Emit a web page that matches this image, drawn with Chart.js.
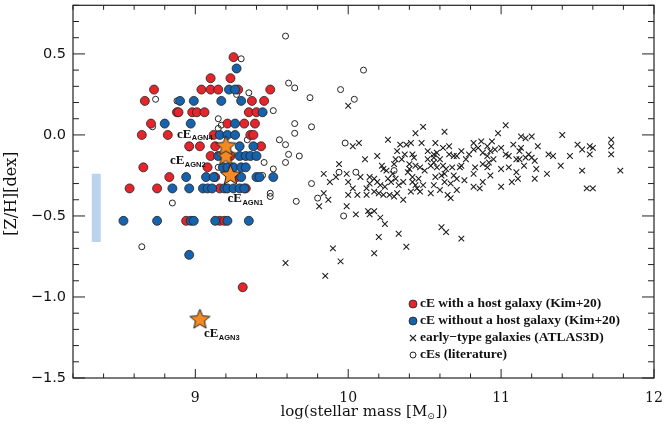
<!DOCTYPE html>
<html>
<head>
<meta charset="utf-8">
<script src="https://cdn.jsdelivr.net/npm/chart.js@4.4.0/dist/chart.umd.min.js"></script>
<style>
  html, body { margin: 0; padding: 0; background: #fff; }
</style>
</head>
<body>
<canvas id="chart" width="664" height="428"></canvas>
<script>
// cE with a host galaxy (Kim+20)
const hostX = [9.25, 9.10, 9.23, 8.73, 9.04, 9.10, 9.15, 9.28, 9.49, 8.67, 9.37, 9.45,
  8.88, 8.89, 8.98, 9.01, 9.06, 9.35, 9.40, 8.71, 9.21, 9.32, 9.39, 8.65, 8.82, 9.12,
  9.36, 9.38, 8.96, 9.03, 9.13, 9.43, 9.10, 9.23, 8.66, 9.08, 8.83, 9.13, 9.27, 8.57,
  8.75, 9.16, 9.33, 8.94, 9.16, 9.19, 9.31];
const hostY = [0.48, 0.35, 0.35, 0.28, 0.28, 0.28, 0.28, 0.28, 0.28, 0.21, 0.21, 0.21,
  0.14, 0.14, 0.14, 0.14, 0.14, 0.14, 0.14, 0.07, 0.07, 0.07, 0.07, 0.0, 0.0, 0.0,
  0.0, 0.0, -0.07, -0.07, -0.07, -0.07, -0.13, -0.13, -0.2, -0.2, -0.26, -0.26, -0.26, -0.33,
  -0.33, -0.33, -0.33, -0.53, -0.53, -0.53, -0.94];

// cE without a host galaxy (Kim+20)
const noHostX = [9.27, 9.22, 9.26, 8.90, 8.99, 9.17, 9.30, 9.44, 8.80, 8.97, 9.26, 9.16,
  9.21, 9.26, 9.29, 9.38, 9.15, 9.29, 9.33, 9.36, 9.40, 9.18, 9.21, 9.25, 9.30, 9.33,
  8.94, 9.07, 9.12, 9.30, 9.40, 9.42, 9.51, 8.85, 8.96, 9.05, 9.08, 9.11, 9.19, 9.21,
  9.25, 9.29, 9.32, 8.53, 8.75, 8.97, 8.99, 9.13, 9.21, 9.35, 8.96];
const noHostY = [0.41, 0.28, 0.28, 0.21, 0.21, 0.21, 0.21, 0.14, 0.07, 0.07, 0.07, 0.0,
  0.0, 0.0, -0.07, -0.07, -0.13, -0.13, -0.13, -0.13, -0.13, -0.2, -0.2, -0.2, -0.2, -0.2,
  -0.26, -0.26, -0.26, -0.26, -0.26, -0.26, -0.26, -0.33, -0.33, -0.33, -0.33, -0.33, -0.33, -0.33,
  -0.33, -0.33, -0.33, -0.53, -0.53, -0.53, -0.53, -0.53, -0.53, -0.53, -0.74];

// early-type galaxies (ATLAS3D)
const atlasX = [10.00, 10.44, 10.49, 10.63, 11.03, 10.98, 10.26, 10.07, 10.03, 10.34, 10.38, 10.41,
  10.48, 10.57, 10.52, 10.32, 10.42, 10.43, 10.56, 10.58, 10.62, 10.66, 10.74, 10.82, 10.82, 10.87,
  10.91, 10.94, 10.96, 10.88, 10.91, 10.95, 11.03, 11.08, 11.13, 11.16, 11.20, 11.24, 11.12, 11.10,
  11.12, 11.16, 11.18, 11.31, 11.34, 11.40, 11.45, 11.50, 11.53, 11.58, 11.60, 11.58, 11.72, 11.72,
  11.72, 11.78, 11.53, 11.56, 11.60, 11.39, 11.30, 11.22, 11.23, 11.22, 11.15, 11.10, 11.11, 11.07,
  11.05, 11.00, 11.00, 10.86, 10.82, 10.82, 10.83, 10.88, 10.93, 10.91, 10.92, 10.88, 10.74, 10.73,
  10.68, 10.69, 10.69, 10.71, 10.76, 10.67, 10.63, 10.63, 10.62, 10.58, 10.56, 10.56, 10.52, 10.47,
  10.44, 10.40, 10.39, 10.36, 10.42, 10.44, 10.45, 10.41, 10.47, 10.54, 10.49, 10.56, 10.57, 10.61,
  10.60, 10.65, 10.67, 10.71, 10.31, 10.30, 10.19, 10.11, 10.22, 10.23, 10.26, 10.31, 10.28, 10.17,
  10.14, 10.19, 10.14, 10.21, 10.17, 10.20, 10.23, 10.27, 10.30, 10.32, 10.06, 10.12, 10.00, 10.03,
  10.00, 9.99, 9.94, 9.84, 9.88, 9.92, 9.84, 9.87, 10.36, 9.81, 9.99, 10.05, 10.13, 10.14,
  10.17, 10.21, 10.24, 10.33, 10.20, 10.38, 10.61, 10.64, 10.74, 9.90, 9.95, 10.17, 9.85, 9.59,
  10.35, 10.40, 10.42, 10.50, 10.54, 10.46, 10.66, 10.71, 10.77, 10.79, 10.85, 10.93, 11.00, 11.05,
  11.13, 11.20, 10.25, 10.29, 10.33, 10.24, 10.12, 10.08, 10.60, 10.64, 10.37];
const atlasY = [0.18, 0.01, 0.05, 0.02, 0.06, 0.01, -0.03, -0.05, -0.07, -0.06, -0.06, -0.05,
  -0.05, -0.05, -0.10, -0.10, -0.12, -0.14, -0.12, -0.11, -0.08, -0.07, -0.10, -0.05, -0.09, -0.04,
  -0.07, -0.04, -0.09, -0.11, -0.13, -0.15, -0.12, -0.06, -0.01, -0.02, -0.01, -0.07, -0.10, -0.15,
  -0.15, -0.14, -0.12, -0.12, -0.13, 0.00, -0.13, -0.06, -0.09, -0.07, -0.08, -0.12, -0.03, -0.07,
  -0.12, -0.22, -0.22, -0.33, -0.33, -0.19, -0.24, -0.16, -0.21, -0.27, -0.19, -0.23, -0.27, -0.29,
  -0.20, -0.21, -0.32, -0.33, -0.32, -0.24, -0.20, -0.29, -0.25, -0.20, -0.17, -0.18, -0.19, -0.20,
  -0.20, -0.13, -0.25, -0.27, -0.28, -0.30, -0.29, -0.24, -0.19, -0.20, -0.17, -0.14, -0.15, -0.20,
  -0.19, -0.18, -0.23, -0.29, -0.29, -0.31, -0.33, -0.35, -0.35, -0.36, -0.31, -0.31, -0.26, -0.25,
  -0.34, -0.37, -0.39, -0.34, -0.15, -0.18, -0.13, -0.15, -0.19, -0.21, -0.27, -0.27, -0.29, -0.27,
  -0.26, -0.29, -0.30, -0.31, -0.35, -0.36, -0.37, -0.37, -0.38, -0.36, -0.37, -0.37, -0.37, -0.33,
  -0.29, -0.24, -0.18, -0.24, -0.29, -0.26, -0.36, -0.40, -0.40, -0.44, -0.44, -0.49, -0.47, -0.49,
  -0.47, -0.51, -0.55, -0.61, -0.63, -0.69, -0.57, -0.60, -0.64, -0.70, -0.78, -0.73, -0.87, -0.79,
  -0.15, -0.21, -0.26, -0.22, -0.19, -0.27, -0.12, -0.13, -0.15, -0.12, -0.08, -0.10, -0.08, -0.13,
  -0.08, -0.14, -0.22, -0.24, -0.31, -0.32, -0.33, -0.26, -0.15, -0.21, -0.12];

// cEs (literature)
const litX = [9.30, 9.35, 8.74, 8.88, 9.51, 8.72, 9.15, 9.65, 9.76, 9.15, 9.17, 9.65, 8.96,
  9.34, 9.55, 9.59, 9.61, 9.68, 9.59, 9.15, 9.45, 9.51, 9.44, 9.49, 9.49, 8.85, 9.66, 9.76,
  9.80, 8.65, 9.59, 10.10, 9.61, 9.65, 9.95, 9.75, 10.04, 9.98, 10.05, 9.94, 9.97, 10.30, 9.27];
const litY = [0.47, 0.26, 0.22, 0.21, 0.15, 0.05, 0.10, 0.07, 0.05, 0.04, 0.06, 0.01, -0.08,
  -0.03, -0.03, -0.06, -0.12, -0.13, -0.17, -0.20, -0.17, -0.21, -0.25, -0.36, -0.38, -0.42, -0.41, -0.30,
  -0.39, -0.69, 0.61, 0.40, 0.32, 0.29, 0.28, 0.23, 0.22, -0.05, -0.23, -0.23, -0.50, -0.22, 0.25];

// AGN hosting cEs
const agnNames = ['AGN1', 'AGN2', 'AGN3', 'AGN4'];
const agnX = [9.23, 9.20, 9.03, 9.20];
const agnY = [-0.25, -0.13, -1.14, -0.07];

// light blue range bar at the left
const bandX = [8.352, 8.352];
const bandY = [-0.24, -0.66];

const xTicks = [9, 10, 11, 12];
const yTicks = [0.5, 0.0, -0.5, -1.0, -1.5];
const yTickLabels = ['0.5', '0.0', '\u22120.5', '\u22121.0', '\u22121.5'];

const pts = (xs, ys) => xs.map((x, i) => ({ x: x, y: ys[i] }));

function makeStar(r) {
    const s = Math.ceil(r * 2 + 4);
    const c = document.createElement('canvas');
    c.width = s; c.height = s;
    const g = c.getContext('2d');
    g.beginPath();
    for (let i = 0; i < 10; i++) {
        const a = -Math.PI / 2 + i * Math.PI / 5;
        const rr = i % 2 === 0 ? r : r * 0.45;
        g.lineTo(s / 2 + rr * Math.cos(a), s / 2 + rr * Math.sin(a));
    }
    g.closePath();
    g.fillStyle = '#f58a22';
    g.fill();
    g.lineWidth = 1;
    g.strokeStyle = '#222';
    g.stroke();
    return c;
}
const starImg = makeStar(10.5);

const RED = '#e4262c';
const BLUE = '#1762ad';

// label offsets (px) for the AGN stars
const agnLabelOff = { AGN1: [-3, 23], AGN2: [-56, 5], AGN3: [4, 14], AGN4: [-49, -12] };

const framePlugin = {
    id: 'frame',
    afterDatasetsDraw(chart) {
        const ctx = chart.ctx;
        const xs = chart.scales.x, ys = chart.scales.y;
        const a = chart.chartArea;
        ctx.save();

        // axes box
        ctx.strokeStyle = '#222';
        ctx.lineWidth = 1.2;
        ctx.strokeRect(a.left, a.top, a.right - a.left, a.bottom - a.top);

        // inward ticks
        ctx.lineWidth = 1;
        ctx.beginPath();
        for (let k = 0; k <= 19; k++) {
            const v = 8.2 + k * 0.2;
            const px = xs.getPixelForValue(v);
            const major = Math.abs(v - Math.round(v)) < 1e-6;
            const len = major ? 9 : 4.5;
            ctx.moveTo(px, a.bottom); ctx.lineTo(px, a.bottom - len);
            ctx.moveTo(px, a.top); ctx.lineTo(px, a.top + len);
        }
        for (let k = 0; k <= 23; k++) {
            const v = -1.5 + k * 0.1;
            const py = ys.getPixelForValue(v);
            const major = Math.abs(v * 2 - Math.round(v * 2)) < 1e-6;
            const len = major ? 12 : 6;
            ctx.moveTo(a.left, py); ctx.lineTo(a.left + len, py);
            ctx.moveTo(a.right, py); ctx.lineTo(a.right - len, py);
        }
        ctx.stroke();

        // tick labels
        ctx.fillStyle = '#111';
        ctx.font = '14.5px "DejaVu Sans"';
        ctx.textAlign = 'right';
        ctx.textBaseline = 'middle';
        yTicks.forEach((v, i) => ctx.fillText(yTickLabels[i], 66, ys.getPixelForValue(v)));
        ctx.font = '14px "DejaVu Serif"';
        ctx.textAlign = 'center';
        ctx.textBaseline = 'top';
        xTicks.forEach(v => ctx.fillText(String(v), xs.getPixelForValue(v), 391));

        // x title with subscript sun
        ctx.textBaseline = 'alphabetic';
        ctx.textAlign = 'left';
        const t1 = 'log(stellar mass [M', t2 = '\u2299', t3 = '])';
        ctx.font = '15px "DejaVu Serif"';
        const w1 = ctx.measureText(t1).width, w3 = ctx.measureText(t3).width;
        ctx.font = '9px "DejaVu Sans"';
        const w2 = ctx.measureText(t2).width;
        let tx = (a.left + a.right) / 2 - (w1 + w2 + w3) / 2;
        ctx.font = '15px "DejaVu Serif"';
        ctx.fillText(t1, tx, 416);
        ctx.font = '9px "DejaVu Sans"';
        ctx.fillText(t2, tx + w1, 419);
        ctx.font = '15px "DejaVu Serif"';
        ctx.fillText(t3, tx + w1 + w2 + 1, 416);

        // y title
        ctx.save();
        ctx.translate(12, (a.top + a.bottom) / 2 + 2);
        ctx.rotate(-Math.PI / 2);
        ctx.textAlign = 'center';
        ctx.textBaseline = 'middle';
        ctx.font = '16px "DejaVu Serif"';
        ctx.fillText('[Z/H][dex]', 0, 0);
        ctx.restore();

        // AGN labels
        agnNames.forEach((n, i) => {
            const off = agnLabelOff[n];
            const px = xs.getPixelForValue(agnX[i]) + off[0];
            const py = ys.getPixelForValue(agnY[i]) + off[1];
            ctx.textAlign = 'left';
            ctx.textBaseline = 'middle';
            ctx.font = 'bold 13px "Liberation Serif"';
            ctx.fillText('cE', px, py);
            const w = ctx.measureText('cE').width;
            ctx.font = 'bold 7.5px "Liberation Sans"';
            ctx.fillText(n, px + w + 0.5, py + 4);
        });

        // legend
        const rows = [
            { text: 'cE with a host galaxy (Kim+20)', kind: 'host' },
            { text: 'cE without a host galaxy (Kim+20)', kind: 'nohost' },
            { text: 'early\u2212type galaxies (ATLAS3D)', kind: 'atlas' },
            { text: 'cEs (literature)', kind: 'lit' }
        ];
        ctx.font = 'bold 13.5px "Liberation Serif"';
        ctx.textAlign = 'left';
        ctx.textBaseline = 'middle';
        rows.forEach((r, i) => {
            const y = 304 + i * 17;
            const mx = 413;
            ctx.lineWidth = 0.8;
            ctx.strokeStyle = '#222';
            if (r.kind === 'host' || r.kind === 'nohost') {
                ctx.beginPath();
                ctx.arc(mx, y, 4, 0, Math.PI * 2);
                ctx.fillStyle = r.kind === 'host' ? RED : BLUE;
                ctx.fill();
                ctx.stroke();
            } else if (r.kind === 'atlas') {
                ctx.lineWidth = 1.1;
                ctx.beginPath();
                ctx.moveTo(mx - 3, y - 3); ctx.lineTo(mx + 3, y + 3);
                ctx.moveTo(mx - 3, y + 3); ctx.lineTo(mx + 3, y - 3);
                ctx.stroke();
            } else {
                ctx.lineWidth = 1;
                ctx.beginPath();
                ctx.arc(mx, y, 3, 0, Math.PI * 2);
                ctx.stroke();
            }
            ctx.fillStyle = '#111';
            ctx.fillText(r.text, 420, y);
        });

        ctx.restore();
    }
};

const chart = new Chart(document.getElementById('chart').getContext('2d'), {
    type: 'scatter',
    data: {
        datasets: [
            {
                label: 'band',
                data: pts(bandX, bandY),
                showLine: true,
                borderColor: '#bcd3ee',
                borderWidth: 9,
                borderCapStyle: 'butt',
                pointRadius: 0,
                order: 6
            },
            {
                label: 'early-type galaxies (ATLAS3D)',
                data: pts(atlasX, atlasY),
                pointStyle: 'crossRot',
                pointRadius: 4,
                borderColor: '#1a1a1a',
                borderWidth: 1.05,
                order: 5
            },
            {
                label: 'cEs (literature)',
                data: pts(litX, litY),
                pointStyle: 'circle',
                pointRadius: 3,
                backgroundColor: 'rgba(255,255,255,0)',
                borderColor: '#222',
                borderWidth: 1,
                order: 4
            },
            {
                label: 'cE with a host galaxy (Kim+20)',
                data: pts(hostX, hostY),
                pointRadius: 4.5,
                backgroundColor: RED,
                borderColor: '#222',
                borderWidth: 0.8,
                order: 3
            },
            {
                label: 'cE without a host galaxy (Kim+20)',
                data: pts(noHostX, noHostY),
                pointRadius: 4.5,
                backgroundColor: BLUE,
                borderColor: '#222',
                borderWidth: 0.8,
                order: 2
            },
            {
                label: 'AGN cEs',
                data: pts(agnX, agnY),
                pointStyle: starImg,
                order: 1
            }
        ]
    },
    options: {
        responsive: false,
        animation: false,
        events: [],
        layout: { padding: { left: 73, right: 10, top: 2, bottom: 50 } },
        plugins: {
            legend: { display: false },
            tooltip: { enabled: false }
        },
        scales: {
            x: { type: 'linear', min: 8.2, max: 12, display: false },
            y: { type: 'linear', min: -1.5, max: 0.8, display: false }
        }
    },
    plugins: [framePlugin]
});
</script>
</body>
</html>
